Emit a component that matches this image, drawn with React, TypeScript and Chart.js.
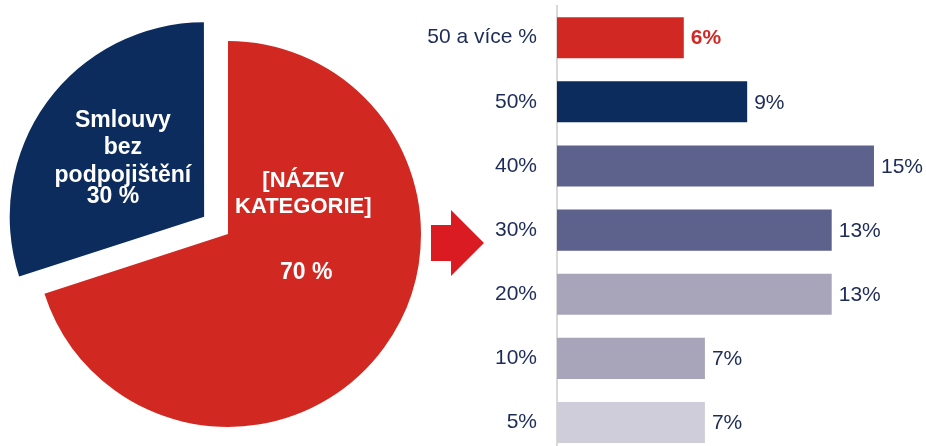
import React, { useEffect, useRef } from "react";
import { Chart, registerables } from "chart.js";

Chart.register(...registerables);

// ---- data ----
const pieCategories = ["[NÁZEV KATEGORIE]", "Smlouvy bez podpojištění"];
const pieValues = [70, 30];
const pieLabelLines = [["[NÁZEV", "KATEGORIE]"], ["Smlouvy", "bez", "podpojištění"]];
const pieColors = ["#D22822", "#0B2C5C"];

const barCategories = ["50 a více %", "50%", "40%", "30%", "20%", "10%", "5%"];
const barValues = [6, 9, 15, 13, 13, 7, 7];
const barColors = ["#D22824", "#0B2C5C", "#5C628C", "#5C628C", "#A8A5BA", "#A8A5BA", "#CFCDD9"];

const FONT = "'Liberation Sans', Arial, sans-serif";
const NAVY_TEXT = "#1C2B58";

const pieLabelPlugin = {
  id: "pieLabels",
  afterDatasetsDraw(chart: any) {
    const meta = chart.getDatasetMeta(0);
    const ctx = chart.ctx;
    ctx.save();
    ctx.fillStyle = "#FFFFFF";
    ctx.textAlign = "center";
    ctx.textBaseline = "alphabetic";
    meta.data.forEach((arc: any, i: number) => {
      const p = arc.getProps(["x", "y", "startAngle", "endAngle", "outerRadius"], true);
      const mid = (p.startAngle + p.endAngle) / 2;
      const circ = p.endAngle - p.startAngle;
      const off = (arc.options.offset || 0) / 4;
      const fix = 1 - Math.sin(Math.min(Math.PI, circ));
      const shift = off * (1 + fix);
      const cx = p.x + Math.cos(mid) * shift;
      const cy = p.y + Math.sin(mid) * shift;
      const R = p.outerRadius;
      const pct = pieValues[i] + " %";
      if (i === 1) {
        const gx = cx + Math.cos(mid) * R * 0.5 - 2;
        const gy = cy + Math.sin(mid) * R * 0.5;
        ctx.font = `bold 23px ${FONT}`;
        const lines = pieLabelLines[i];
        const base = [-32, -5, 23];
        lines.forEach((l, k) => ctx.fillText(l, gx, gy + base[k]));
        ctx.fillText(pct, gx - 10, gy + 44);
      } else {
        const gx = cx + R * 0.39;
        ctx.font = `bold 22px ${FONT}`;
        const lines = pieLabelLines[i];
        const base = [-47, -21];
        lines.forEach((l, k) => ctx.fillText(l, gx, cy + base[k]));
        ctx.font = `bold 23px ${FONT}`;
        ctx.fillText(pct, gx + 3, cy + 45);
      }
    });
    ctx.restore();
  },
};

const barLabelPlugin = {
  id: "barLabels",
  afterDatasetsDraw(chart: any) {
    const meta = chart.getDatasetMeta(0);
    const ctx = chart.ctx;
    ctx.save();
    ctx.textAlign = "left";
    ctx.textBaseline = "middle";
    meta.data.forEach((bar: any, i: number) => {
      if (i === 0) {
        ctx.font = `bold 21px ${FONT}`;
        ctx.fillStyle = barColors[0];
      } else {
        ctx.font = `21px ${FONT}`;
        ctx.fillStyle = NAVY_TEXT;
      }
      ctx.fillText(barValues[i] + "%", bar.x + 7, bar.y + 1);
    });
    // arrow pointing from the pie to the bars
    const left = chart.chartArea.left;
    const yMid = meta.data[3].y + 13;
    const tipX = left - 73;
    ctx.fillStyle = "#DA1C22";
    ctx.beginPath();
    ctx.moveTo(tipX - 53, yMid - 18);
    ctx.lineTo(tipX - 33, yMid - 18);
    ctx.lineTo(tipX - 33, yMid - 33);
    ctx.lineTo(tipX, yMid);
    ctx.lineTo(tipX - 33, yMid + 33);
    ctx.lineTo(tipX - 33, yMid + 18);
    ctx.lineTo(tipX - 53, yMid + 18);
    ctx.closePath();
    ctx.fill();
    ctx.restore();
  },
};

export default function App() {
  const pieRef = useRef<HTMLCanvasElement>(null);
  const barRef = useRef<HTMLCanvasElement>(null);

  useEffect(() => {
    document.body.style.margin = "0";
    const pie = new Chart(pieRef.current!, {
      type: "pie",
      data: {
        labels: pieCategories,
        datasets: [
          {
            data: pieValues,
            backgroundColor: pieColors,
            borderWidth: 0,
            offset: [0, 118],
          },
        ],
      },
      options: {
        animation: false,
        responsive: true,
        maintainAspectRatio: false,
        radius: 193,
        layout: { padding: { top: 22, bottom: 0, left: 0, right: 0 } },
        plugins: { legend: { display: false }, tooltip: { enabled: false } },
        events: [],
      } as any,
      plugins: [pieLabelPlugin],
    });

    const bar = new Chart(barRef.current!, {
      type: "bar",
      data: {
        labels: barCategories,
        datasets: [
          {
            data: barValues,
            backgroundColor: barColors,
            borderWidth: 0,
            categoryPercentage: 1,
            barPercentage: 0.64,
          },
        ],
      },
      options: {
        indexAxis: "y",
        animation: false,
        responsive: true,
        maintainAspectRatio: false,
        layout: { padding: { top: 5.6, bottom: 1.4, left: 0, right: 30.9 } },
        plugins: { legend: { display: false }, tooltip: { enabled: false } },
        events: [],
        scales: {
          x: { display: false, min: 0, max: 16 },
          y: {
            grid: { display: false, drawTicks: false },
            border: { display: true, color: "#D9D9D9", width: 2 },
            ticks: {
              padding: 20,
              color: NAVY_TEXT,
              font: { family: FONT, size: 21 },
            },
            afterFit: (scale: any) => {
              scale.width = 157;
              scale.paddingTop = 0;
              scale.paddingBottom = 0;
            },
          },
        },
      } as any,
      plugins: [barLabelPlugin],
    });

    return () => {
      pie.destroy();
      bar.destroy();
    };
  }, []);

  return (
    <div style={{ position: "fixed", left: 0, top: 0, width: 926, height: 446, overflow: "hidden", background: "#FFFFFF" }}>
      <div style={{ position: "absolute", left: 0, top: 0, width: 456, height: 446 }}>
        <canvas ref={pieRef} />
      </div>
      <div style={{ position: "absolute", left: 400, top: 0, width: 526, height: 446, overflow: "hidden" }}>
        <div style={{ position: "relative", width: 526, height: 456 }}>
          <canvas ref={barRef} />
        </div>
      </div>
    </div>
  );
}
